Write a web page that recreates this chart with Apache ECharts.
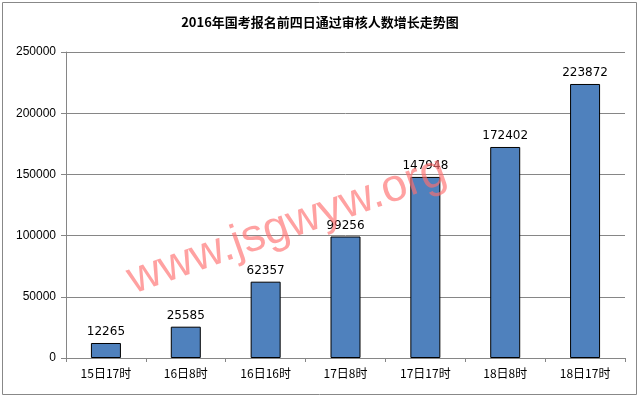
<!DOCTYPE html>
<html>
<head>
<meta charset="utf-8">
<script src="https://cdn.jsdelivr.net/npm/echarts@6/dist/echarts.min.js"></script>
<style>html,body{margin:0;padding:0;background:#fff}#c{width:640px;height:396px}</style>
</head>
<body>
<div id="c"></div>
<script>
const titleText = '2016年国考报名前四日通过审核人数增长走势图';
const categories = ['15日17时', '16日8时', '16日16时', '17日8时', '17日17时', '18日8时', '18日17时'];
const values = [12265, 25585, 62357, 99256, 147948, 172402, 223872];
const yTicks = [0, 50000, 100000, 150000, 200000, 250000];
const watermark = 'www.jsgwyw.org';

const chart = echarts.init(document.getElementById('c'), null, {renderer: 'canvas'});
chart.setOption({
  animation: false,
  backgroundColor: '#fff',
  title: {
    text: titleText, left: 'center', top: 11,
    textStyle: {fontSize: 13, fontWeight: 'bold', color: '#000', fontFamily: 'Noto Sans CJK SC'}
  },
  grid: {left: 66, right: 15, top: 52, bottom: 38, containLabel: false},
  xAxis: {
    type: 'category', data: categories,
    axisLine: {lineStyle: {color: '#868686', width: 1}},
    axisTick: {show: true, length: 4, lineStyle: {color: '#868686'}},
    axisLabel: {color: '#000', fontSize: 12, margin: 9, fontFamily: 'Noto Sans CJK SC'}
  },
  yAxis: {
    type: 'value', min: yTicks[0], max: yTicks[yTicks.length - 1], interval: 50000,
    axisLine: {show: true, lineStyle: {color: '#868686', width: 1}},
    axisTick: {show: true, length: 5, lineStyle: {color: '#868686'}},
    axisLabel: {color: '#000', fontSize: 12, margin: 10, fontFamily: 'Liberation Sans', formatter: v => String(v)},
    splitLine: {lineStyle: {color: '#868686', width: 1}}
  },
  series: [{
    type: 'bar', data: values, barWidth: 30,
    itemStyle: {color: '#4F81BD', borderColor: '#000', borderWidth: 1},
    label: {show: true, position: 'top', distance: 5, color: '#000', fontSize: 12, fontFamily: 'DejaVu Sans'}
  }],
  graphic: [
    {type: 'rect', shape: {x: 2.5, y: 2.5, width: 634, height: 392}, style: {fill: 'none', stroke: '#888', lineWidth: 1}, z: 100},
    {type: 'text', x: 287, y: 226, rotation: 19.5 * Math.PI / 180,
     style: {text: watermark, fontSize: 46, fontFamily: 'Liberation Sans', fill: 'rgba(255,110,110,0.65)', align: 'center', verticalAlign: 'middle'}, z: 50}
  ]
});
</script>
</body>
</html>
